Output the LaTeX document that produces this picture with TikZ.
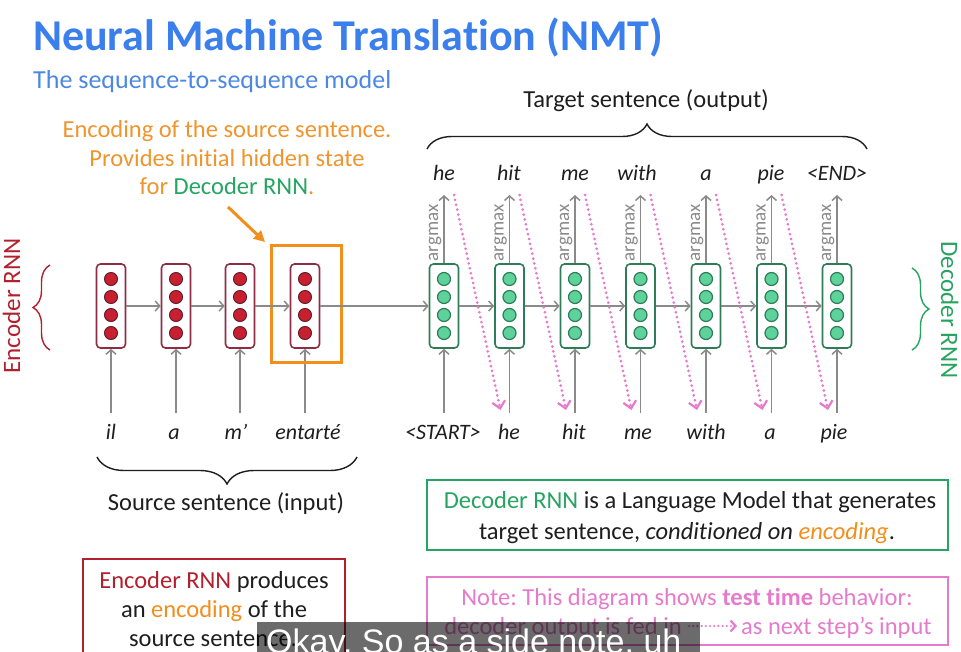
\documentclass[tikz,border=0pt]{standalone}
\usepackage{fontspec}
\setmainfont{Carlito}[Ligatures=NoCommon]
\newfontfamily\capfont{Liberation Sans}
\usetikzlibrary{arrows.meta,decorations.pathreplacing}
\frenchspacing
\definecolor{titleblue}{HTML}{3B7FEC}
\definecolor{subblue}{HTML}{4C88E2}
\definecolor{encred}{HTML}{B2202E}
\definecolor{encdark}{HTML}{8E2C44}
\definecolor{encfill}{HTML}{C8202F}
\definecolor{decgreen}{HTML}{26A461}
\definecolor{decdark}{HTML}{2F7D58}
\definecolor{decfill}{HTML}{5DD29A}
\definecolor{orng}{HTML}{F28E1C}
\definecolor{otext}{HTML}{F0952E}
\definecolor{pnk}{HTML}{E57BCB}
\definecolor{gry}{HTML}{8A8A8A}
\definecolor{ink}{HTML}{1E1E1E}
\newcommand{\fsz}[2]{\fontsize{#1}{#2}\selectfont}
\tikzset{
  cellbox/.style={rounded corners=4pt, line width=1.6pt, minimum width=29pt, minimum height=84pt, inner sep=0pt, fill=white},
  encbox/.style={cellbox, draw=encdark},
  decbox/.style={cellbox, draw=decdark},
  encdot/.style={circle, draw=encdark!70!black, fill=encfill, line width=1pt, minimum size=13pt, inner sep=0pt},
  decdot/.style={circle, draw=decdark, fill=decfill, line width=1.2pt, minimum size=13pt, inner sep=0pt},
  garrow/.style={draw=gry, line width=1.5pt, -{Straight Barb[length=4.5pt,width=10pt,line width=1.5pt]}},
  parrow/.style={draw=pnk, line width=3pt, dash pattern=on 0pt off 5pt, line cap=round, -{Straight Barb[length=7pt,width=13pt,line width=2.2pt]}},
  word/.style={font=\fsz{22}{26}\itshape, text=ink, anchor=base, inner sep=0pt},
  lbl/.style={font=\fsz{24.5}{29}, text=ink, anchor=base, inner sep=0pt},
  argm/.style={font=\fsz{19}{22}, text=gry, rotate=90, anchor=base, inner sep=0pt},
  bracedec/.style={decorate, decoration={brace, amplitude=#1}, line width=1.4pt},
}
\begin{document}
\begin{tikzpicture}[x=1pt,y=-1pt]
\useasboundingbox (0,0) rectangle (961,651);
\clip (0,0) rectangle (961,651);
\fill[white] (0,0) rectangle (961,651);

% title
\node[anchor=base west, inner sep=0pt, text=titleblue, font=\fsz{44}{52}\bfseries] (title) at (33,50) {Neural Machine Translation (NMT)};
\node[anchor=base west, inner sep=0pt, text=subblue, font=\fsz{26}{30}] (subtitle) at (33,88) {The sequence-to-sequence model};

% annotation
\node[lbl, text=otext] (ann1) at (227,137) {Encoding of the source sentence.};
\node[lbl, text=otext] (ann2) at (227,166) {Provides initial hidden state};
\node[lbl, text=otext] (ann3) at (227,194) {for \textcolor{decgreen}{Decoder RNN}.};

% encoder cells
\foreach \i/\x in {1/111,2/176,3/240,4/305}{
  \node[encbox] (e\i) at (\x,306) {};
  \foreach \j/\y in {1/279,2/297,3/315,4/333}
    \node[encdot] (e\i d\j) at (\x,\y) {};
  \coordinate (ei\i) at (\x,413);
  \draw[garrow] (ei\i) -- (e\i.south);
}
\node[draw=orng, line width=3pt, minimum width=70pt, minimum height=117pt, inner sep=0pt] (obox) at (306,303.5) {};
\coordinate (oa1) at (228,207);
\coordinate (oa2) at (265,242);
\draw[orng, line width=3pt, -{Triangle[length=11pt,width=11pt]}] (oa1) -- (oa2);

\node[word] (s1) at (111,439) {il};
\node[word] (s2) at (174,439) {a};
\node[word] (s3) at (236,439) {m’};
\node[word] (s4) at (308,439) {entarté};

% decoder cells
\foreach \i/\x in {1/444,2/509.5,3/575,4/640.5,5/706,6/771.5,7/837}{
  \node[decbox] (d\i) at (\x,306) {};
  \foreach \j/\y in {1/279,2/297,3/315,4/333}
    \node[decdot] (d\i d\j) at (\x,\y) {};
  \coordinate (di\i) at (\x,413);
  \coordinate (dt\i) at (\x,195);
  \draw[garrow] (di\i) -- (d\i.south);
  \draw[garrow] (d\i.north) -- (dt\i);
  \node[argm] (am\i) at (\x-6,233) {argmax};
}

% recurrent arrows
\draw[garrow] (e1.east) -- (e2.west);
\draw[garrow] (e2.east) -- (e3.west);
\draw[garrow] (e3.east) -- (e4.west);
\draw[garrow] (e4.east) -- (d1.west);
\foreach \a/\b in {1/2,2/3,3/4,4/5,5/6,6/7}
  \draw[garrow] (d\a.east) -- (d\b.west);

% output words
\node[word] (o1) at (444,180) {he};
\node[word] (o2) at (509,180) {hit};
\node[word] (o3) at (575,180) {me};
\node[word] (o4) at (637,180) {with};
\node[word] (o5) at (706,180) {a};
\node[word] (o6) at (771,180) {pie};
\node[word] (o7) at (837,180) {<END>};

% decoder input words
\node[word] (i1) at (443,439) {<START>};
\node[word] (i2) at (509,439) {he};
\node[word] (i3) at (574,439) {hit};
\node[word] (i4) at (638,439) {me};
\node[word] (i5) at (706,439) {with};
\node[word] (i6) at (770,439) {a};
\node[word] (i7) at (834,439) {pie};

% pink feed arrows
\foreach \i/\a/\b in {1/444/509.5,2/509.5/575,3/575/640.5,4/640.5/706,5/706/771.5,6/771.5/837}{
  \coordinate (ps\i) at (\a+10,195);
  \coordinate (pe\i) at (\b-9,410);
  \draw[parrow] (ps\i) -- (pe\i);
}

% braces
\draw[bracedec=25pt, ink] (427,149) -- (867,149);
\node[lbl] (tgt) at (646,107) {Target sentence (output)};
\draw[bracedec=27pt, ink] (357,457) -- (97,457);
\node[lbl] (src) at (226,510) {Source sentence (input)};
\draw[bracedec=17pt, encred] (50,350) -- (50,265);
\node[rotate=90, anchor=base, inner sep=0pt, text=encred, font=\fsz{25}{29}] (encl) at (20,306) {Encoder RNN};
\draw[bracedec=17pt, decgreen] (912,268) -- (912,350);
\node[rotate=-90, anchor=base, inner sep=0pt, text=decgreen, font=\fsz{25}{29}] (decl) at (941,310) {Decoder RNN};

% green box
\node[draw=decgreen, line width=1.8pt, minimum width=521pt, minimum height=70pt, inner sep=0pt] (gbox) at (687.5,515) {};
\node[lbl] (g1) at (690,508) {\textcolor{decgreen}{Decoder RNN} is a Language Model that generates};
\node[lbl] (g2) at (687,539) {target sentence, \textit{conditioned on \textcolor{orng}{encoding}}.};

% pink box
\node[draw=pnk, line width=1.8pt, minimum width=521pt, minimum height=68pt, inner sep=0pt] (pbox) at (687.5,611) {};
\node[lbl, text=pnk] (p1) at (687,605) {Note: This diagram shows \textbf{test time} behavior:};
\node[lbl, text=pnk, anchor=base east] (p2) at (682,634) {decoder output is fed in};
\node[lbl, text=pnk, anchor=base west] (p3) at (741,634) {as next step’s input};
\coordinate (pa1) at (689,626);
\coordinate (pa2) at (737,626);
\draw[draw=pnk, line width=2.4pt, dash pattern=on 0pt off 4.2pt, line cap=round, -{Straight Barb[length=5pt,width=11pt,line width=2.2pt]}] (pa1) -- (pa2);

% red box
\node[draw=encred, line width=1.8pt, minimum width=262pt, minimum height=140pt, inner sep=0pt] (rbox) at (214,629) {};
\node[lbl] (r1) at (214,588) {\textcolor{encred}{Encoder RNN} produces};
\node[lbl] (r2) at (214,617) {an \textcolor{orng}{encoding} of the};
\node[lbl] (r3) at (213,646) {source sentence.};

% caption overlay
\fill[black, fill opacity=0.58] (257,622) rectangle (700,660);
\node[anchor=base west, inner sep=0pt, text=white, font=\capfont\fsz{34}{40}] (cap) at (266,653) {Okay. So as a side note, uh};
\end{tikzpicture}
\end{document}
